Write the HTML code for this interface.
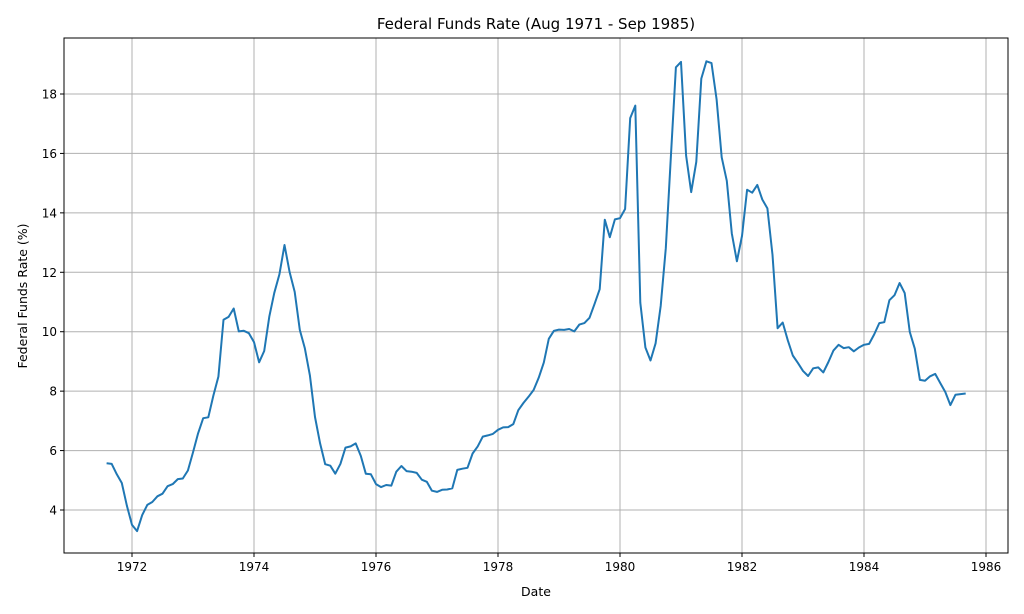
<!DOCTYPE html>
<html><head><meta charset="utf-8"><style>
body{margin:0;background:#fff;}
svg{display:block;font-family:"DejaVu Sans","Liberation Sans",sans-serif;}
</style></head><body>
<svg id="s" width="1024" height="614" xmlns="http://www.w3.org/2000/svg">
<rect x="0" y="0" width="1024" height="614" fill="#fff"/>
<g id="grid"></g>
<polyline id="line" fill="none" stroke="#1f77b4" stroke-width="2" stroke-linejoin="round"/>
<rect x="64" y="38" width="944" height="515" fill="none" stroke="#000" stroke-width="1"/>
<g id="ticks" font-size="12" fill="#000"></g>
<text x="536" y="29" font-size="15" text-anchor="middle">Federal Funds Rate (Aug 1971 - Sep 1985)</text>
<text x="536" y="596" font-size="12.5" text-anchor="middle">Date</text>
<text transform="translate(27,296) rotate(-90)" font-size="12.5" text-anchor="middle">Federal Funds Rate (%)</text>
</svg>
<script>
var d=[5.57,5.55,5.20,4.91,4.14,
3.50,3.29,3.83,4.17,4.27,4.46,4.55,4.80,4.87,5.04,5.06,5.33,
5.94,6.58,7.09,7.12,7.84,8.49,10.40,10.50,10.78,10.01,10.03,9.95,
9.65,8.97,9.35,10.51,11.31,11.93,12.92,12.01,11.34,10.06,9.45,8.53,
7.13,6.24,5.54,5.49,5.22,5.55,6.10,6.14,6.24,5.82,5.22,5.20,
4.87,4.77,4.84,4.82,5.29,5.48,5.31,5.29,5.25,5.02,4.95,4.65,
4.61,4.68,4.69,4.73,5.35,5.39,5.42,5.90,6.14,6.47,6.51,6.56,
6.70,6.78,6.79,6.89,7.36,7.60,7.81,8.04,8.45,8.96,9.76,10.03,
10.07,10.06,10.09,10.01,10.24,10.29,10.47,10.94,11.43,13.77,13.18,13.78,
13.82,14.13,17.19,17.61,10.98,9.47,9.03,9.61,10.87,12.81,15.85,18.90,
19.08,15.93,14.70,15.72,18.52,19.10,19.04,17.82,15.87,15.08,13.31,12.37,
13.22,14.78,14.68,14.94,14.45,14.15,12.59,10.12,10.31,9.71,9.20,8.95,
8.68,8.51,8.77,8.80,8.63,8.98,9.37,9.56,9.45,9.48,9.34,9.47,
9.56,9.59,9.91,10.29,10.32,11.06,11.23,11.64,11.30,9.99,9.43,8.38,
8.35,8.50,8.58,8.27,7.97,7.53,7.88,7.90,7.92];
function X(t){return 132+(t-1972)*61;}
function Y(v){return 510-(v-4)*29.714;}
var p=[];for(var i=0;i<d.length;i++){var t=1971+7/12+i/12;p.push(X(t).toFixed(1)+","+Y(d[i]).toFixed(1));}
document.getElementById("line").setAttribute("points",p.join(" "));
var g="",tk="";
for(var y=1972;y<=1986;y+=2){var x=X(y);g+='<line x1="'+x+'" y1="38" x2="'+x+'" y2="553" stroke="#b0b0b0" stroke-width="1"/>';
tk+='<line x1="'+x+'" y1="553" x2="'+x+'" y2="557" stroke="#000"/><text x="'+x+'" y="571" text-anchor="middle">'+y+'</text>';}
for(var v=4;v<=18;v+=2){var yy=Y(v);g+='<line x1="64" y1="'+yy+'" x2="1008" y2="'+yy+'" stroke="#b0b0b0" stroke-width="1"/>';
tk+='<line x1="60" y1="'+yy+'" x2="64" y2="'+yy+'" stroke="#000"/><text x="57" y="'+(yy+4.5)+'" text-anchor="end">'+v+'</text>';}
document.getElementById("grid").innerHTML=g;
document.getElementById("ticks").innerHTML=tk;
</script>
</body></html>
